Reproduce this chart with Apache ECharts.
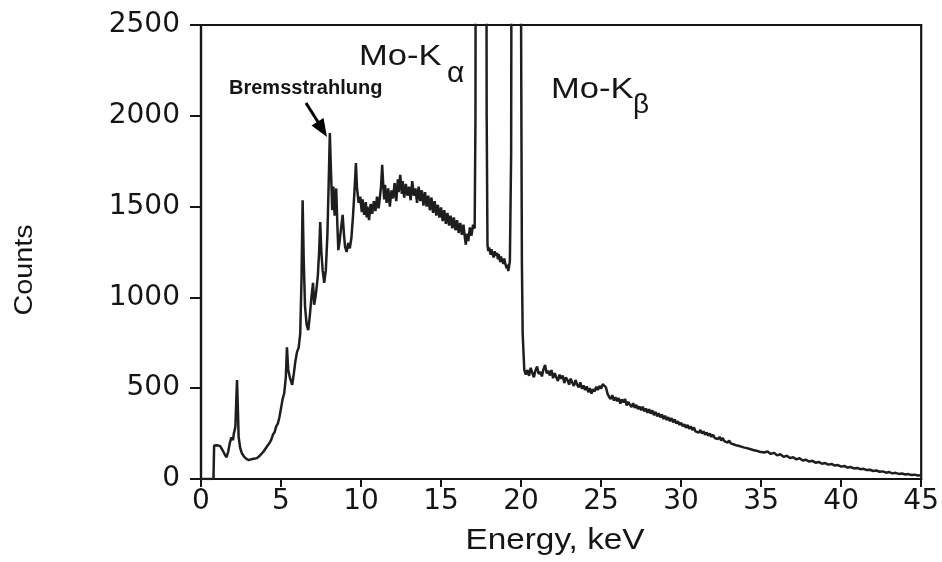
<!DOCTYPE html>
<html>
<head>
<meta charset="utf-8">
<script src="https://cdn.jsdelivr.net/npm/echarts@6/dist/echarts.min.js"></script>
<style>
html,body{margin:0;padding:0;background:#fff;}
#chart{width:942px;height:562px;}
</style>
</head>
<body>
<div id="chart"></div>
<script>
// ---- data: [energy keV, counts] ----
const lowEnergy = [
  [0,0],[0.5,0],[0.78,0],[0.82,185],[0.9,192],[1.0,186],[1.1,175],[1.2,181],[1.3,166],[1.4,150],
  [1.5,132],[1.6,120],[1.7,150],[1.8,198],[1.9,230],[2.0,214],[2.05,250],[2.1,266],[2.15,290],
  [2.2,420],[2.25,545],[2.3,400],[2.35,232],[2.45,170],[2.55,142],[2.7,122],[2.85,110],[3.0,104],
  [3.15,109],[3.3,112],[3.4,118],[3.5,115],[3.6,126],[3.7,131],[3.8,142],[3.9,150],[4.0,158],[4.1,176],
  [4.2,185],[4.3,201],[4.4,218],[4.5,245],[4.6,258],[4.7,290],[4.8,305],[4.9,340],[5.0,390]
];
const fluorescence = [
  [5.1,440],[5.2,472],[5.3,560],[5.37,725],[5.45,600],[5.55,560],[5.7,518],[5.8,580],[5.9,650],
  [6.0,700],[6.1,722],[6.2,800],[6.28,1100],[6.35,1535],[6.42,1200],[6.5,950],[6.6,850],[6.7,820],
  [6.8,900],[6.9,1000],[7.0,1080],[7.07,960],[7.15,1000],[7.22,1050],[7.3,1120],[7.38,1250],
  [7.45,1415],[7.52,1250],[7.6,1150],[7.7,1080],[7.8,1150],[7.9,1350],[7.97,1600],[8.05,1905],
  [8.12,1700],[8.2,1480],[8.27,1610],[8.35,1450],[8.45,1600],[8.52,1400],[8.58,1260],[8.65,1300],
  [8.75,1380],[8.85,1455],[8.93,1350],[9.0,1280],[9.1,1250],[9.2,1300],[9.3,1270],[9.4,1330],
  [9.5,1450],[9.6,1600],[9.68,1740],[9.75,1600],[9.85,1520]
];
const continuum = [
  [9.95,1555],[10.0,1510],[10.05,1470],[10.1,1540],[10.2,1455],[10.3,1525],[10.35,1440],[10.4,1500],
  [10.5,1425],[10.6,1515],[10.7,1460],[10.8,1530],[10.9,1475],[11.0,1555],[11.1,1490],[11.2,1570],
  [11.25,1610],[11.32,1730],[11.4,1600],[11.45,1540],[11.5,1620],[11.6,1520],[11.7,1600],[11.8,1500],
  [11.9,1590],[12.0,1545],[12.1,1630],[12.2,1530],[12.3,1650],[12.35,1580],[12.45,1675],[12.55,1570],
  [12.6,1640],[12.7,1550],[12.8,1625],[12.9,1560],[13.0,1610],[13.1,1535],[13.2,1640],[13.3,1560],
  [13.4,1600],[13.5,1520],[13.6,1610],[13.7,1530],[13.8,1590],[13.9,1505],[14.0,1580],[14.1,1500],
  [14.2,1560],[14.3,1480],[14.4,1550],[14.5,1465],[14.6,1530],[14.7,1450],[14.8,1510],[14.9,1440],
  [15.0,1495],[15.1,1420],[15.2,1480],[15.3,1405],[15.4,1465],[15.5,1395],[15.6,1450],[15.7,1380],
  [15.8,1440],[15.9,1370],[16.0,1425],[16.1,1355],[16.2,1410],[16.3,1345],[16.4,1400],[16.5,1320],
  [16.55,1290],[16.6,1350],[16.7,1310],[16.8,1385],[16.9,1340],[17.0,1400],[17.1,1380]
];
const moKPeaks = [
  [17.15,2000],[17.2,6000],[17.5,9000],[17.8,5000],[17.85,2000],[17.9,1290],[17.95,1255],[18.0,1275],
  [18.1,1235],[18.15,1265],[18.2,1240],[18.3,1220],[18.35,1255],[18.4,1230],[18.5,1245],[18.55,1210],
  [18.6,1238],[18.7,1195],[18.75,1225],[18.8,1205],[18.9,1185],[18.95,1215],[19.0,1190],[19.1,1160],
  [19.15,1180],[19.2,1145],[19.3,1200],[19.38,1800],[19.45,6000],[19.65,9000],[19.9,6000],
  [20.0,2500],[20.05,1200],[20.1,800],[20.2,600]
];
const highEnergy = [
  [20.3,575],[20.4,600],[20.5,568],[20.6,612],[20.7,585],[20.8,560],[20.9,598],[21.0,620],[21.1,578],
  [21.2,590],[21.3,565],[21.4,605],[21.5,628],[21.6,582],[21.7,597],[21.8,570],[21.9,600],[22.0,555],
  [22.1,583],[22.2,560],[22.3,540],[22.4,575],[22.5,552],[22.6,570],[22.7,528],[22.8,560],[22.9,545],
  [23.0,520],[23.1,553],[23.2,530],[23.3,512],[23.4,545],[23.5,520],[23.6,505],[23.7,532],[23.8,498],
  [23.9,515],[24.0,490],[24.1,510],[24.2,478],[24.3,500],[24.4,470],[24.5,495],[24.6,482],[24.7,508],
  [24.8,490],[24.9,512],[25.0,498],[25.1,522],[25.2,528],[25.3,505],[25.4,470],[25.5,452],[25.6,440],
  [25.7,462],[25.8,432],[25.9,450],[26.0,428],[26.1,446],[26.2,415],[26.3,438],[26.4,422],[26.5,440],
  [26.6,405],[26.7,425],[26.8,410],[26.9,396],[27.0,418],[27.1,392],[27.2,408],[27.3,385],[27.4,400],
  [27.5,378],[27.6,398],[27.7,372],[27.8,388],[27.9,365],[28.0,384],[28.1,360],[28.2,378],[28.3,352],
  [28.4,370],[28.5,345],[28.6,362],[28.7,340],[28.8,355],[28.9,330],[29.0,348],[29.1,325],[29.2,340],
  [29.3,318],[29.4,335],[29.5,312],[29.6,328],[29.7,305],[29.8,318],[29.9,298],[30.0,310],[30.1,290],
  [30.2,302],[30.3,282],[30.4,298],[30.5,276],[30.6,290],[30.7,270],[30.8,284],[30.9,262],[31.0,272],
  [31.1,255],[31.2,270],[31.3,250],[31.4,262],[31.5,244],[31.6,256],[31.7,238],[31.8,250],[31.9,232],
  [32.0,244],[32.1,226],[32.2,236],[32.3,220],[32.4,232],[32.5,212],[32.6,226],[32.7,208],[32.8,218],
  [32.9,200],[33.0,212],[33.1,196],[33.2,206],[33.3,190],[33.4,200],[33.5,184],[33.6,195],[33.7,180],
  [33.8,188],[33.9,174],[34.0,184],[34.1,170],[34.2,178],[34.3,165],[34.4,175],[34.5,160],[34.6,170],
  [34.7,156],[34.8,164],[34.9,150],[35.0,158],[35.2,146],[35.4,152],[35.6,138],[35.8,144],[36.0,130],
  [36.2,136],[36.4,122],[36.6,128],[36.8,115],[37.0,120],[37.2,108],[37.4,114],[37.6,102],[37.8,106],
  [38.0,96],[38.2,100],[38.4,90],[38.6,94],[38.8,84],[39.0,88],[39.2,79],[39.4,83],[39.6,74],[39.8,77],
  [40.0,68],[40.2,72],[40.4,63],[40.6,66],[40.8,58],[41.0,61],[41.2,54],[41.4,56],[41.6,49],[41.8,51],
  [42.0,44],[42.2,47],[42.4,40],[42.6,42],[42.8,35],[43.0,38],[43.2,31],[43.4,34],[43.6,28],[43.8,30],
  [44.0,25],[44.2,27],[44.4,22],[44.6,24],[44.8,19],[45.0,20]
];
const xTickStep = 5, xMin = 0, xMax = 45;
const yTickStep = 500, yMin = 0, yMax = 2500;

const spectrum = lowEnergy.concat(fluorescence, continuum, moKPeaks, highEnergy);

const chart = echarts.init(document.getElementById('chart'), null, {renderer: 'canvas'});
const ink = '#151515';
const txt = (text, x, y, font, opts) => Object.assign({
  type: 'text', x: x, y: y, silent: true,
  style: Object.assign({text: text, fill: ink, font: font, align: 'left', verticalAlign: 'middle'}, (opts && opts.style) || {})
}, (opts && opts.el) || {});
const LS = '"Liberation Sans", Arial, sans-serif';

chart.setOption({
  animation: false,
  backgroundColor: '#fff',
  grid: {left: 201, right: 20, top: 25, bottom: 83, show: true, borderColor: ink, borderWidth: 2.2, backgroundColor: 'transparent'},
  xAxis: {
    type: 'value', min: xMin, max: xMax, interval: xTickStep,
    axisLine: {show: true, onZero: false, lineStyle: {color: ink, width: 2.2}},
    axisTick: {show: true, inside: false, length: 8, lineStyle: {color: ink, width: 2}},
    axisLabel: {color: ink, fontFamily: 'DejaVu Sans', fontSize: 28, margin: 9, formatter: v => String(v)},
    splitLine: {show: false}
  },
  yAxis: {
    type: 'value', min: yMin, max: yMax, interval: yTickStep,
    axisLine: {show: true, onZero: false, lineStyle: {color: ink, width: 2.2}},
    axisTick: {show: true, inside: false, length: 11, lineStyle: {color: ink, width: 2}},
    axisLabel: {color: ink, fontFamily: 'DejaVu Sans', fontSize: 28, margin: 21, formatter: v => String(v)},
    splitLine: {show: false}
  },
  series: [{
    type: 'line', data: spectrum, showSymbol: false, clip: true,
    lineStyle: {color: '#1e1e1e', width: 2.5}
  }],
  graphic: [
    txt('Counts', 25, 270, '25px ' + LS, {style: {align: 'center'}, el: {rotation: Math.PI / 2, scaleX: 1.15}}),
    txt('Energy, keV', 555, 541, '29px ' + LS, {style: {align: 'center'}, el: {scaleX: 1.15}}),
    txt('Mo-K', 359, 57, '30px ' + LS, {el: {scaleX: 1.15}}),
    txt('α', 447, 74, '30px ' + LS),
    txt('Mo-K', 551, 90, '30px ' + LS, {el: {scaleX: 1.15}}),
    txt('β', 633, 105, '28px ' + LS),
    txt('Bremsstrahlung', 229, 88, 'bold 20px ' + LS),
    {type: 'line', silent: true, shape: {x1: 306, y1: 103, x2: 318, y2: 122}, style: {stroke: '#000', lineWidth: 3}},
    {type: 'polygon', silent: true, shape: {points: [[327, 137], [311.5, 125.5], [323.5, 118]]}, style: {fill: '#000'}}
  ]
});
</script>
</body>
</html>
